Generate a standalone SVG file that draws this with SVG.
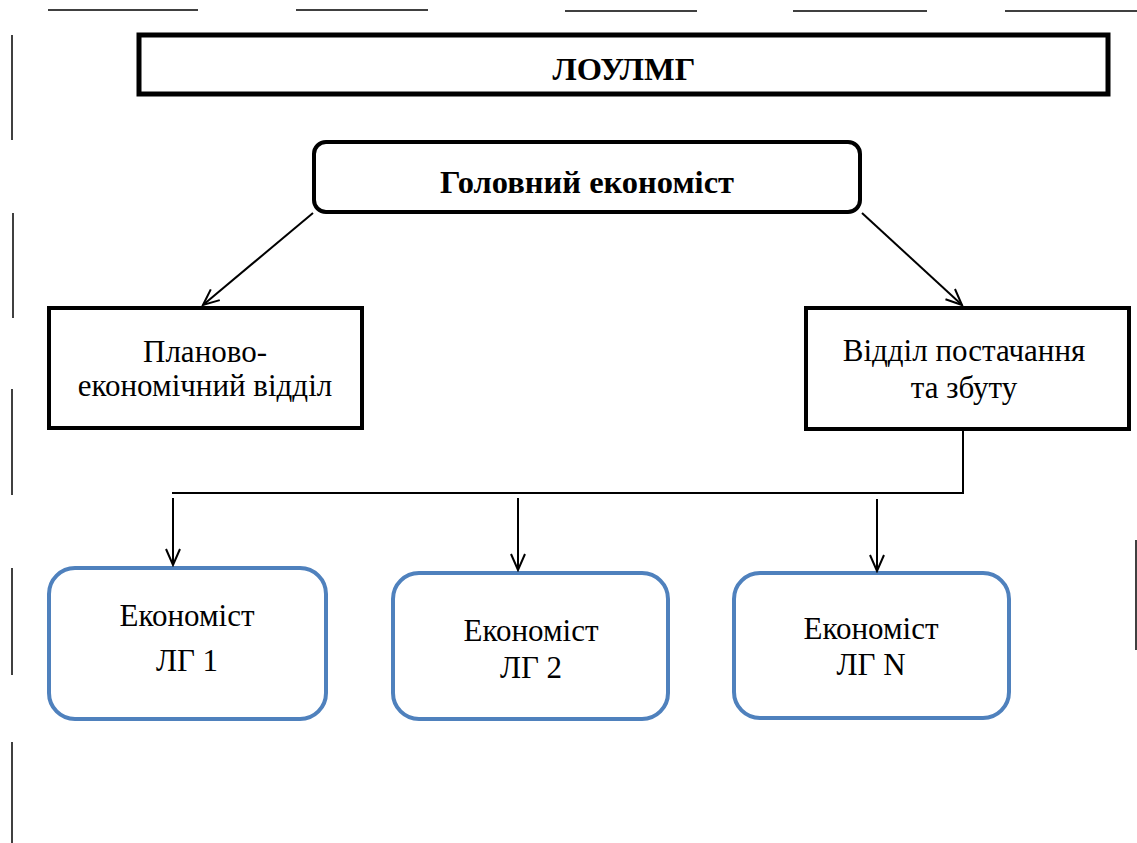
<svg xmlns="http://www.w3.org/2000/svg" width="1137" height="843" viewBox="0 0 1137 843">
<defs>
<style>
.t{font-family:"Liberation Serif","DejaVu Serif",serif;font-size:31px;fill:#000;text-anchor:middle}
.b{font-weight:bold;font-size:32.5px}
.blk{fill:#fff;stroke:#000;stroke-width:4}
.blue{fill:#fff;stroke:#4F81BD;stroke-width:4}
.ln{stroke:#000;stroke-width:2;fill:none}
.m{stroke:#000;stroke-width:1.5;fill:none}
</style>
<marker id="ah" viewBox="0 0 20 20" refX="18" refY="10" markerWidth="20" markerHeight="20" markerUnits="userSpaceOnUse" orient="auto">
<path d="M2,3 L18,10 L2,17" fill="none" stroke="#000" stroke-width="2"/>
</marker>
</defs>
<rect width="1137" height="843" fill="#fff"/>
<g id="page-marks" class="m">
<line x1="48" y1="10" x2="198" y2="10"/>
<line x1="296" y1="10" x2="428" y2="10"/>
<line x1="565" y1="11" x2="697" y2="11"/>
<line x1="793" y1="11" x2="927" y2="11"/>
<line x1="1005" y1="11" x2="1137" y2="11"/>
<line x1="12" y1="35" x2="12" y2="140"/>
<line x1="13" y1="213" x2="13" y2="318"/>
<line x1="12" y1="389" x2="12" y2="495"/>
<line x1="12" y1="568" x2="12" y2="675"/>
<line x1="12" y1="742" x2="12" y2="843"/>
<line x1="1136" y1="540" x2="1136" y2="650"/>
</g>
<g id="node-loumg">
<rect x="139" y="35" width="969" height="59" fill="#fff" stroke="#000" stroke-width="5"/>
<text class="t b" x="624" y="80">ЛОУЛМГ</text>
</g>
<g id="node-head">
<rect class="blk" x="314" y="142" width="546" height="70" rx="12"/>
<text class="t b" x="587" y="193">Головний економіст</text>
</g>
<g id="node-plan">
<rect class="blk" x="49" y="308" width="313" height="120"/>
<text class="t" x="205" y="362">Планово-</text>
<text class="t" x="205" y="396">економічний відділ</text>
</g>
<g id="node-supply">
<rect class="blk" x="806" y="308" width="323" height="121"/>
<text class="t" x="964" y="361">Відділ постачання</text>
<text class="t" x="964" y="398">та збуту</text>
</g>
<g id="node-lg1">
<rect class="blue" x="49" y="568" width="277" height="151" rx="26"/>
<text class="t" x="187" y="626">Економіст</text>
<text class="t" x="187" y="671">ЛГ 1</text>
</g>
<g id="node-lg2">
<rect class="blue" x="393" y="573" width="275" height="146" rx="26"/>
<text class="t" x="531" y="641">Економіст</text>
<text class="t" x="531" y="678">ЛГ 2</text>
</g>
<g id="node-lgn">
<rect class="blue" x="734" y="573" width="275" height="145" rx="26"/>
<text class="t" x="871" y="639">Економіст</text>
<text class="t" x="871" y="675">ЛГ N</text>
</g>
<g id="connectors" class="ln">
<line x1="313" y1="213" x2="203" y2="305" marker-end="url(#ah)"/>
<line x1="862" y1="213" x2="962" y2="305" marker-end="url(#ah)"/>
<polyline points="963,430 963,493 172,493"/>
<line x1="173" y1="498" x2="173" y2="565" marker-end="url(#ah)"/>
<line x1="518" y1="498" x2="518" y2="570" marker-end="url(#ah)"/>
<line x1="877" y1="499" x2="877" y2="571" marker-end="url(#ah)"/>
</g>
</svg>
